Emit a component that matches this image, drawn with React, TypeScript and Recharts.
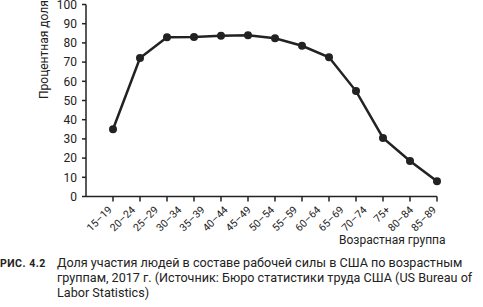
import { Line, LineChart, XAxis, YAxis } from "recharts";

const ageGroups = [
  "15–19", "20–24", "25–29", "30–34", "35–39", "40–44", "45–49", "50–54",
  "55–59", "60–64", "65–69", "70–74", "75+", "80–84", "85–89",
];
const participation = [35.0, 72.1, 82.9, 83.1, 83.7, 84.0, 82.4, 78.5, 72.5, 54.9, 30.5, 18.5, 7.9];
const yTicks = [0, 10, 20, 30, 40, 50, 60, 70, 80, 90, 100];

const font = "Roboto, 'Noto Sans', sans-serif";
const ink = "#222";

const data = participation.map((v, i) => ({ x: i, v }));
const labelTicks = ageGroups.map((_, i) => i);

function AgeTick({ x, y, payload }: any) {
  return (
    <text
      x={x}
      y={y}
      dy={5}
      textAnchor="end"
      transform={`rotate(-45, ${x}, ${y + 5})`}
      fontSize={10.5}
      fill={ink}
      fontFamily={font}
    >
      {ageGroups[payload.value]}
    </text>
  );
}

export default function App() {
  return (
    <div style={{ position: "absolute", left: 0, top: 0, width: 483, height: 307, background: "#fff", fontFamily: font, color: ink }}>
      <LineChart width={483} height={240} data={data} margin={{ top: 4.5, right: 46, bottom: 0, left: 0 }}>
        <XAxis
          xAxisId="a"
          dataKey="x"
          type="number"
          domain={[-1, 12]}
          ticks={data.map((d) => d.x)}
          tick={() => <g />}
          tickSize={5}
          height={1}
          stroke={ink}
          strokeWidth={1.5}
        />
        <XAxis
          xAxisId="b"
          dataKey="x"
          type="number"
          domain={[-1.15, 14]}
          allowDataOverflow
          ticks={labelTicks}
          interval={0}
          axisLine={false}
          tickLine={false}
          tick={<AgeTick />}
          height={42.5}
        />
        <YAxis
          domain={[0, 100]}
          ticks={yTicks}
          interval={0}
          width={86}
          tickSize={4}
          tickMargin={5}
          stroke={ink}
          strokeWidth={1.5}
          tick={{ fontSize: 12, fill: ink, fontFamily: font }}
        />
        <Line
          xAxisId="a"
          dataKey="v"
          stroke={ink}
          strokeWidth={2.5}
          dot={{ r: 4, fill: ink, stroke: ink, strokeWidth: 0 }}
          isAnimationActive={false}
        />
      </LineChart>
      <div style={{ position: "absolute", left: 38, top: 45, transform: "rotate(-90deg)", transformOrigin: "center", width: 94, marginLeft: -41, fontSize: 12, whiteSpace: "nowrap" }}>
        Процентная доля
      </div>
      <div style={{ position: "absolute", left: 339, top: 233, fontSize: 12 }}>Возрастная группа</div>
      <div style={{ position: "absolute", left: 0, top: 255, fontSize: 12.6, lineHeight: "15px" }}>
        <span style={{ position: "absolute", left: 0, top: 1, fontSize: 10.5, fontWeight: 700, letterSpacing: 0.5 }}>РИС. 4.2</span>
        <div style={{ marginLeft: 57, whiteSpace: "nowrap" }}>
          Доля участия людей в составе рабочей силы в США по возрастным
          <br />
          группам, 2017 г. (Источник: Бюро статистики труда США (US Bureau of
          <br />
          Labor Statistics)
        </div>
      </div>
    </div>
  );
}
